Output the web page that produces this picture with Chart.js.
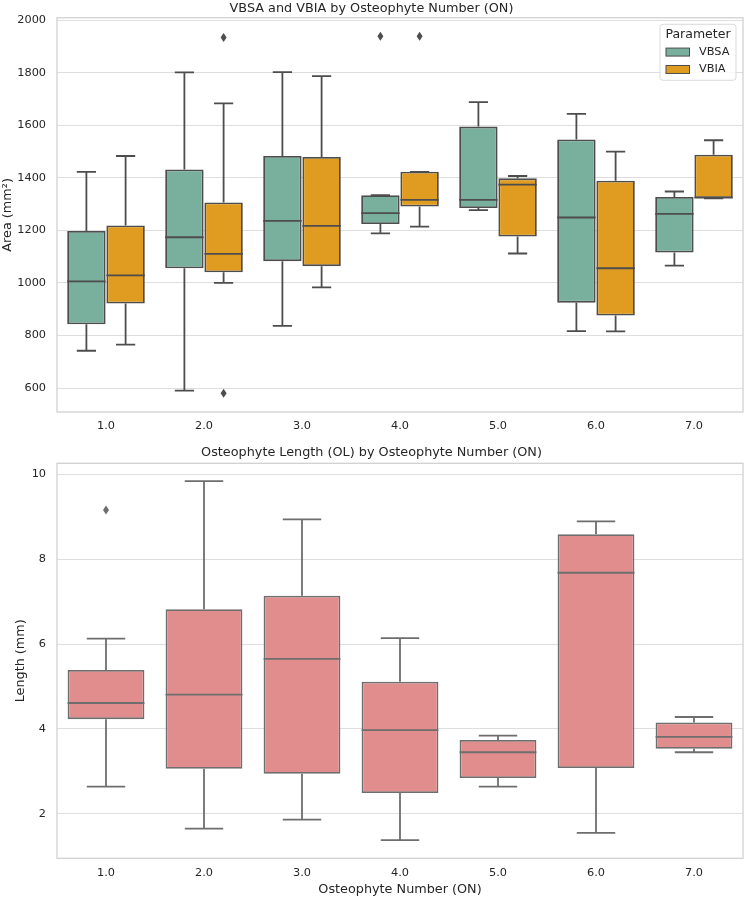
<!DOCTYPE html>
<html>
<head>
<meta charset="utf-8">
<script src="https://cdn.jsdelivr.net/npm/chart.js@4.4.0/dist/chart.umd.js"></script>
<style>
  body { margin: 0; background: #fff; }
  canvas { position: absolute; left: 0; }
</style>
</head>
<body>
<canvas id="areaChart" width="744" height="440" style="top:0"></canvas>
<canvas id="lengthChart" width="744" height="457" style="top:440px"></canvas>
<script>
const categories = ['1.0', '2.0', '3.0', '4.0', '5.0', '6.0', '7.0'];

// VBSA (mm²)
const vbsaMin    = [742, 590, 837, 1189, 1277, 817, 1066];
const vbsaQ1     = [843, 1056, 1083, 1224, 1285, 925, 1116];
const vbsaMedian = [1006, 1174, 1236, 1266, 1316, 1249, 1263];
const vbsaQ3     = [1198, 1432, 1483, 1334, 1595, 1546, 1327];
const vbsaMax    = [1423, 1801, 1802, 1334, 1688, 1643, 1348];
const vbsaOutliers = [[], [], [], [1939], [], [], []];

// VBIA (mm²)
const vbiaMin    = [765, 1000, 983, 1214, 1112, 816, 1322];
const vbiaQ1     = [922, 1041, 1064, 1291, 1177, 876, 1323];
const vbiaMedian = [1029, 1111, 1217, 1316, 1374, 1056, 1325];
const vbiaQ3     = [1219, 1306, 1479, 1423, 1398, 1389, 1488];
const vbiaMax    = [1483, 1683, 1787, 1423, 1407, 1500, 1543];
const vbiaOutliers = [[], [580, 1934], [], [1939], [], [], []];

// Osteophyte length (mm)
const olMin    = [2.64, 1.65, 1.86, 1.38, 2.64, 1.55, 3.45];
const olQ1     = [4.23, 3.06, 2.94, 2.49, 2.84, 3.08, 3.53];
const olMedian = [4.61, 4.81, 5.65, 3.97, 3.45, 7.68, 3.81];
const olQ3     = [5.39, 6.82, 7.14, 5.11, 3.74, 8.59, 4.15];
const olMax    = [6.13, 9.84, 8.94, 6.14, 3.84, 8.89, 4.28];
const olOutliers = [[9.16], [], [], [], [], [], []];

const areaTicks = [600, 800, 1000, 1200, 1400, 1600, 1800, 2000];
const lengthTicks = [2, 4, 6, 8, 10];

const FONT = "'DejaVu Sans', sans-serif";
const TEXT = '#262626';
Chart.defaults.font.family = FONT;
Chart.defaults.color = TEXT;

function boxDataset(label, color, edge, q1, q3, min, median, max, outliers) {
    return {
        label: label,
        data: q1.map((v, i) => [v, q3[i]]),
        backgroundColor: color,
        borderColor: edge,
        borderWidth: 1.8,
        borderSkipped: false,
        barPercentage: 0.98,
        categoryPercentage: 0.8,
        whiskerMin: min,
        median: median,
        whiskerMax: max,
        outliers: outliers
    };
}

// draws median, whiskers, caps and fliers on top of the floating bars
const boxPlugin = {
    id: 'boxParts',
    afterDatasetsDraw(chart) {
        const ctx = chart.ctx;
        const y = chart.scales.y;
        chart.data.datasets.forEach((ds, d) => {
            const meta = chart.getDatasetMeta(d);
            meta.data.forEach((bar, i) => {
                const x = bar.x;
                const w = bar.width;
                const [q1, q3] = ds.data[i];
                ctx.save();
                ctx.strokeStyle = ds.borderColor;
                ctx.lineWidth = 1.8;
                ctx.beginPath();
                // median
                ctx.moveTo(x - w / 2, y.getPixelForValue(ds.median[i]));
                ctx.lineTo(x + w / 2, y.getPixelForValue(ds.median[i]));
                // whiskers
                ctx.moveTo(x, y.getPixelForValue(q1));
                ctx.lineTo(x, y.getPixelForValue(ds.whiskerMin[i]));
                ctx.moveTo(x, y.getPixelForValue(q3));
                ctx.lineTo(x, y.getPixelForValue(ds.whiskerMax[i]));
                // caps
                ctx.moveTo(x - w / 4, y.getPixelForValue(ds.whiskerMin[i]));
                ctx.lineTo(x + w / 4, y.getPixelForValue(ds.whiskerMin[i]));
                ctx.moveTo(x - w / 4, y.getPixelForValue(ds.whiskerMax[i]));
                ctx.lineTo(x + w / 4, y.getPixelForValue(ds.whiskerMax[i]));
                ctx.stroke();
                // outliers as thin diamonds
                ctx.fillStyle = ds.borderColor;
                ds.outliers[i].forEach(v => {
                    const py = y.getPixelForValue(v);
                    ctx.beginPath();
                    ctx.moveTo(x, py - 4.5);
                    ctx.lineTo(x + 3, py);
                    ctx.lineTo(x, py + 4.5);
                    ctx.lineTo(x - 3, py);
                    ctx.closePath();
                    ctx.fill();
                });
                ctx.restore();
            });
        });
    }
};

// light frame around the plot area
const framePlugin = {
    id: 'frame',
    beforeDatasetsDraw(chart) {
        const {ctx, chartArea: a} = chart;
        ctx.save();
        ctx.strokeStyle = '#cfcfcf';
        ctx.lineWidth = 1.25;
        ctx.strokeRect(a.left, a.top, a.right - a.left, a.bottom - a.top);
        ctx.restore();
    }
};

// legend box inside the upper right corner
const legendPlugin = {
    id: 'insideLegend',
    afterDraw(chart) {
        const {ctx, chartArea: a} = chart;
        const right = a.right - 7;
        const left = right - 76;
        const top = a.top + 6.5;
        ctx.save();
        ctx.fillStyle = 'rgba(255,255,255,0.8)';
        ctx.strokeStyle = '#d9d9d9';
        ctx.lineWidth = 1;
        ctx.beginPath();
        ctx.roundRect(left, top, right - left, 56, 3);
        ctx.fill();
        ctx.stroke();
        ctx.fillStyle = TEXT;
        ctx.textBaseline = 'middle';
        ctx.textAlign = 'center';
        ctx.font = '12.5px ' + FONT;
        ctx.fillText('Parameter', (left + right) / 2, top + 10.5);
        ctx.textAlign = 'left';
        ctx.font = '11.3px ' + FONT;
        chart.data.datasets.forEach((ds, d) => {
            const cy = top + 27.8 + d * 17.4;
            ctx.fillStyle = ds.backgroundColor;
            ctx.strokeStyle = ds.borderColor;
            ctx.lineWidth = 1;
            ctx.fillRect(left + 6, cy - 4, 23.5, 8);
            ctx.strokeRect(left + 6, cy - 4, 23.5, 8);
            ctx.fillStyle = TEXT;
            ctx.fillText(ds.label, left + 39, cy);
        });
        ctx.restore();
    }
};

function scalesFor(yMin, yMax, ticks, yTitle, yTitlePad, xHeight, xTitle) {
    return {
        x: {
            grid: { display: false, drawTicks: false },
            border: { display: false },
            ticks: { font: { size: 11.3 }, color: TEXT, padding: 7.5 },
            title: {
                display: !!xTitle,
                text: xTitle || '',
                font: { size: 12.8 },
                color: TEXT,
                padding: { top: 0, bottom: 0 }
            },
            afterFit: (scale) => { scale.height = xHeight; }
        },
        y: {
            min: yMin,
            max: yMax,
            grid: { color: '#dedede', lineWidth: 1, drawTicks: false },
            border: { display: false },
            ticks: {
                font: { size: 11.3 },
                color: TEXT,
                padding: 11,
                callback: (v) => String(v)
            },
            afterBuildTicks: (axis) => { axis.ticks = ticks.map(v => ({ value: v })); },
            title: {
                display: true,
                text: yTitle,
                font: { size: 12.8 },
                color: TEXT,
                padding: { top: yTitlePad, bottom: 0 }
            },
            afterFit: (scale) => { scale.width = 57; }
        }
    };
}

new Chart(document.getElementById('areaChart').getContext('2d'), {
    type: 'bar',
    data: {
        labels: categories,
        datasets: [
            boxDataset('VBSA', '#79af9d', '#4d4d4d', vbsaQ1, vbsaQ3, vbsaMin, vbsaMedian, vbsaMax, vbsaOutliers),
            boxDataset('VBIA', '#df9c20', '#4d4d4d', vbiaQ1, vbiaQ3, vbiaMin, vbiaMedian, vbiaMax, vbiaOutliers)
        ]
    },
    options: {
        responsive: false,
        animation: false,
        layout: { padding: { left: 0, right: 1, top: 0, bottom: 0 } },
        plugins: {
            legend: { display: false },
            tooltip: { enabled: false },
            title: {
                display: true,
                text: 'VBSA and VBIA by Osteophyte Number (ON)',
                font: { size: 12.8, weight: 'normal', lineHeight: 1 },
                color: TEXT,
                padding: { top: 0, bottom: 3.2 }
            }
        },
        scales: scalesFor(509, 2009, areaTicks, 'Area (mm²)', 0, 28, null)
    },
    plugins: [framePlugin, boxPlugin, legendPlugin]
});

new Chart(document.getElementById('lengthChart').getContext('2d'), {
    type: 'bar',
    data: {
        labels: categories,
        datasets: [
            boxDataset('OL', '#e18d8d', '#6e6e6e', olQ1, olQ3, olMin, olMedian, olMax, olOutliers)
        ]
    },
    options: {
        responsive: false,
        animation: false,
        layout: { padding: { left: 0, right: 1, top: 0, bottom: 0 } },
        plugins: {
            legend: { display: false },
            tooltip: { enabled: false },
            title: {
                display: true,
                text: 'Osteophyte Length (OL) by Osteophyte Number (ON)',
                font: { size: 12.8, weight: 'normal', lineHeight: 1 },
                color: TEXT,
                padding: { top: 6, bottom: 4.5 }
            }
        },
        scales: scalesFor(0.95, 10.26, lengthTicks, 'Length (mm)', 13.3, 38.7, 'Osteophyte Number (ON)')
    },
    plugins: [framePlugin, boxPlugin]
});
</script>
</body>
</html>
